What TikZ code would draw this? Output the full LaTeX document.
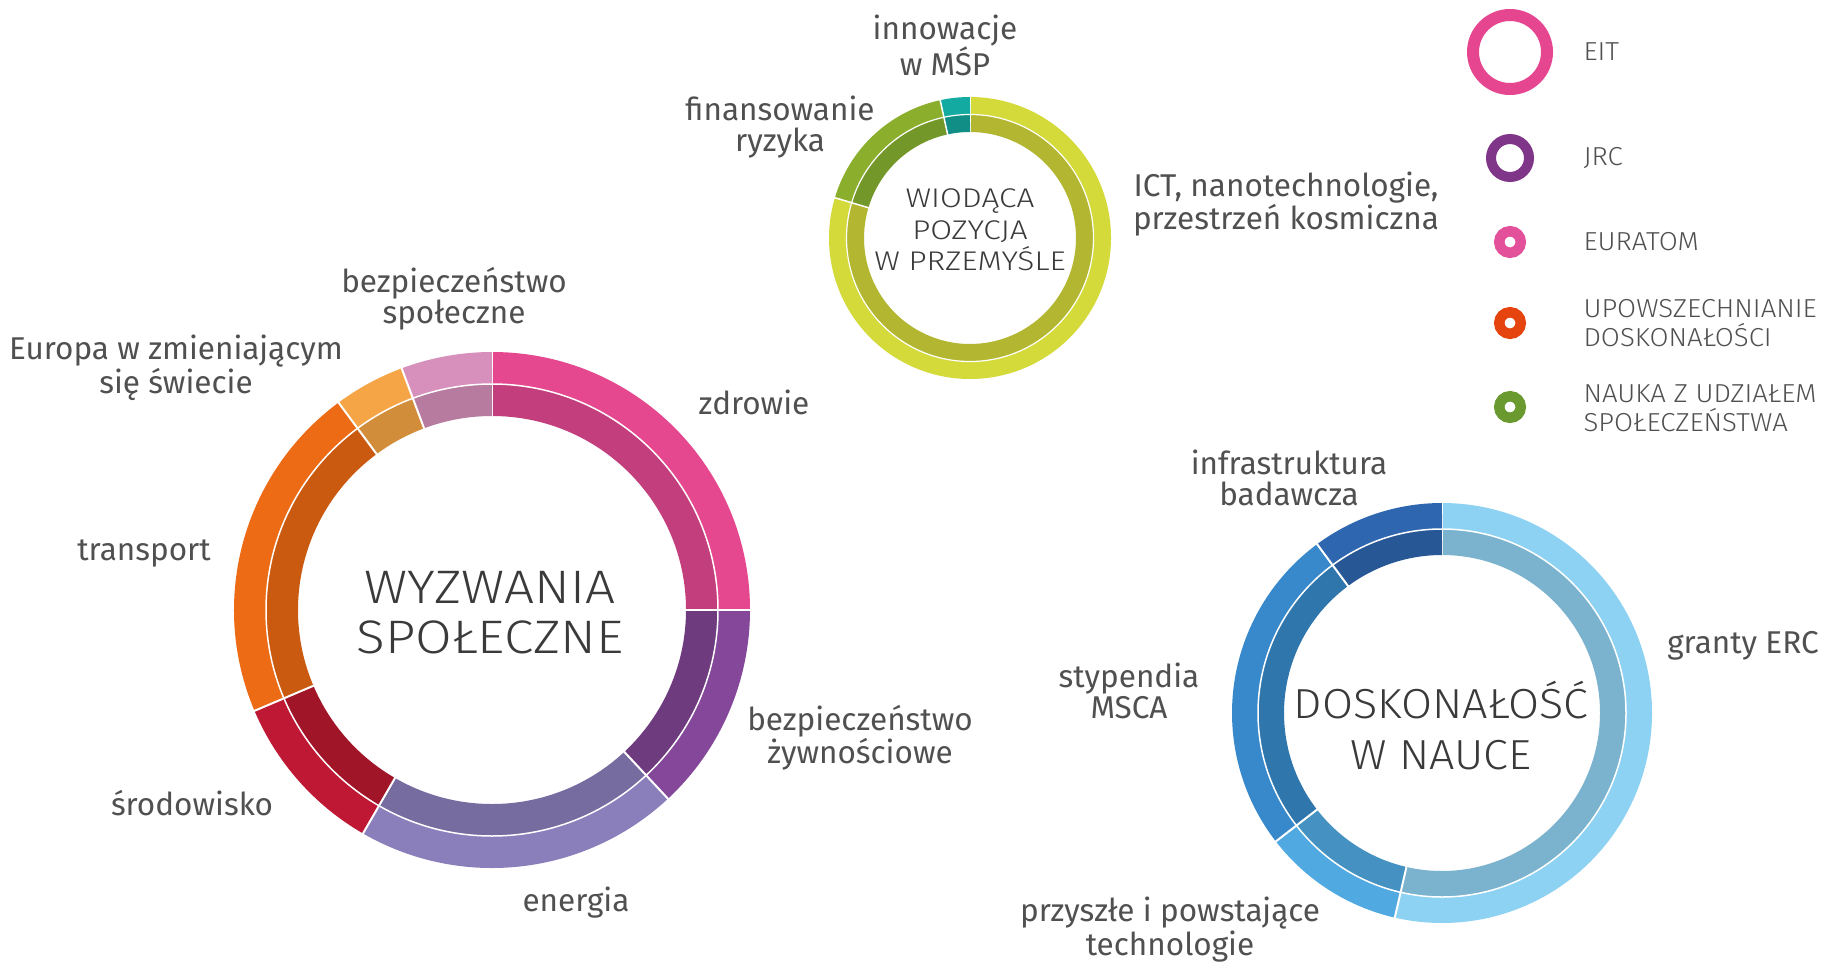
\documentclass[tikz,border=0pt]{standalone}
\usepackage{fontspec}
\setmainfont{Fira Sans}
\newfontfamily\thinfont{Fira Sans Light}
\usepackage{tikz}
\usetikzlibrary{calc}
\definecolor{labelgray}{HTML}{505050}
\definecolor{titlegray}{HTML}{3A3A3A}
% societal challenges
\definecolor{zdrowieout}{HTML}{E5488F}
\definecolor{zdrowiein}{HTML}{C33E7C}
\definecolor{zywnoscout}{HTML}{84479A}
\definecolor{zywnoscin}{HTML}{6E3B7E}
\definecolor{energiaout}{HTML}{8B7FBB}
\definecolor{energiain}{HTML}{776CA0}
\definecolor{srodowout}{HTML}{BE1834}
\definecolor{srodowin}{HTML}{A11529}
\definecolor{transpout}{HTML}{EC6B14}
\definecolor{transpin}{HTML}{C95A10}
\definecolor{europaout}{HTML}{F5A545}
\definecolor{europain}{HTML}{D18D3A}
\definecolor{bezpout}{HTML}{D790BB}
\definecolor{bezpin}{HTML}{B77BA0}
% industrial leadership
\definecolor{ictout}{HTML}{D4DA3A}
\definecolor{ictin}{HTML}{B3B630}
\definecolor{ryzykoout}{HTML}{8BAF2C}
\definecolor{ryzykoin}{HTML}{74972A}
\definecolor{mspout}{HTML}{13ABA1}
\definecolor{mspin}{HTML}{118F87}
% excellent science
\definecolor{ercout}{HTML}{8DD2F2}
\definecolor{ercin}{HTML}{7BB3CE}
\definecolor{fetout}{HTML}{50A9E1}
\definecolor{fetin}{HTML}{4592C2}
\definecolor{mscaout}{HTML}{3889CB}
\definecolor{mscain}{HTML}{2F76AD}
\definecolor{infraout}{HTML}{2F66B0}
\definecolor{infrain}{HTML}{285795}
% legend
\definecolor{eitpink}{HTML}{E6468F}
\definecolor{jrcpurple}{HTML}{7F3588}
\definecolor{euratompink}{HTML}{E4519B}
\definecolor{upoworange}{HTML}{E5440E}
\definecolor{naukagreen}{HTML}{6A9A2F}

\tikzset{
  lbl/.style={text=labelgray, align=center, font=\fontsize{31.5}{31}\selectfont},
  ttl/.style={text=titlegray, align=center},
  leg/.style={text=labelgray, anchor=west, align=left,
    font=\thinfont\addfontfeature{FakeStretch=1.06}\fontsize{26}{28.5}\selectfont},
}

\begin{document}
\begin{tikzpicture}[x=1pt, y=-1pt]
  \useasboundingbox (0,0) rectangle (1825,964);
  \fill[white] (0,0) rectangle (1825,964);

  % Wyzwania spoleczne ring
  \begin{scope}[shift={(492,610)}]
    \foreach \a/\b/\co/\ci in {-90/0/zdrowieout/zdrowiein, 0/47/zywnoscout/zywnoscin,
        47/120/energiaout/energiain, 120/157/srodowout/srodowin, 157/233.5/transpout/transpin,
        233.5/249.5/europaout/europain, 249.5/270/bezpout/bezpin} {
      \draw[\co, line width=32pt] (\a:242) arc[start angle=\a, end angle=\b, radius=242];
      \draw[\ci, line width=32pt] (\a:210) arc[start angle=\a, end angle=\b, radius=210];
      \draw[white, line width=2pt] (\a:193) -- (\a:259);
    }
    \draw[white, line width=1.5pt] (0,0) circle[radius=226];
  \end{scope}

  % Wiodaca pozycja ring
  \begin{scope}[shift={(970,238)}]
    \foreach \a/\b/\co/\ci in {-90/196.6/ictout/ictin, 196.6/257.8/ryzykoout/ryzykoin,
        257.8/270/mspout/mspin} {
      \draw[\co, line width=17.5pt] (\a:132.25) arc[start angle=\a, end angle=\b, radius=132.25];
      \draw[\ci, line width=17.5pt] (\a:114.75) arc[start angle=\a, end angle=\b, radius=114.75];
      \draw[white, line width=1.5pt] (\a:105) -- (\a:142);
    }
    \draw[white, line width=1.2pt] (0,0) circle[radius=123.5];
  \end{scope}

  % Doskonalosc w nauce ring
  \begin{scope}[shift={(1442,713)}]
    \foreach \a/\b/\co/\ci in {-90/103/ercout/ercin, 103/142.3/fetout/fetin,
        142.3/233.5/mscaout/mscain, 233.5/270/infraout/infrain} {
      \draw[\co, line width=26pt] (\a:197) arc[start angle=\a, end angle=\b, radius=197];
      \draw[\ci, line width=26pt] (\a:171) arc[start angle=\a, end angle=\b, radius=171];
      \draw[white, line width=2pt] (\a:157) -- (\a:211);
    }
    \draw[white, line width=1.5pt] (0,0) circle[radius=184];
  \end{scope}

  % Ring titles
  \node[ttl, font=\thinfont\addfontfeature{FakeStretch=1.13}\fontsize{47}{50}\selectfont]
    (tWyzwania) at (490,613) {WYZWANIA\\SPOŁECZNE};
  \node[ttl, font=\thinfont\addfontfeature{FakeStretch=1.17}\fontsize{27}{31.5}\selectfont]
    (tWiodaca) at (970,230) {WIODĄCA\\POZYCJA\\W PRZEMYŚLE};
  \node[ttl, font=\thinfont\addfontfeature{FakeStretch=1.07}\fontsize{42}{51}\selectfont]
    (tDoskonalosc) at (1441,725.5) {DOSKONAŁOŚĆ\\W NAUCE};

  % Segment labels
  \node[lbl] (lMsp) at (945,45.5) {innowacje\\w MŚP};
  \node[lbl] (lRyzyko) at (780,127) {finansowanie\\ryzyka};
  \node[lbl] (lIct) at (1286,204) {ICT, nanotechnologie,\\przestrzeń kosmiczna};
  \node[lbl] (lBezp) at (454,298.5) {bezpieczeństwo\\społeczne};
  \node[lbl] (lEuropa) at (176,368) {Europa w zmieniającym\\się świecie};
  \node[lbl] (lZdrowie) at (754,402) {zdrowie};
  \node[lbl] (lTransport) at (144,553) {transport};
  \node[lbl] (lZywnosc) at (860,738) {bezpieczeństwo\\żywnościowe};
  \node[lbl] (lSrodowisko) at (192,803) {środowisko};
  \node[lbl] (lEnergia) at (576,903) {energia};
  \node[lbl] (lInfra) at (1289,478) {infrastruktura\\badawcza};
  \node[lbl] (lErc) at (1743,646) {granty ERC};
  \node[lbl] (lMsca) at (1129,691) {stypendia\\MSCA};
  \node[lbl, font=\fontsize{31.5}{30}\selectfont] (lFet) at (1170,929.5) {przyszłe i powstające\\technologie};

  % Legend
  \foreach \y/\rm/\w/\col in {52/37/12/eitpink, 158/19/10/jrcpurple, 242/10.75/10.5/euratompink,
      323/10.75/10.5/upoworange, 407/10.75/10.5/naukagreen} {
    \draw[\col, line width=\w pt] (1510,\y) circle[radius=\rm];
  }
  \node[leg] (gEit) at (1580,52) {EIT};
  \node[leg] (gJrc) at (1580,158) {JRC};
  \node[leg] (gEuratom) at (1580,242) {EURATOM};
  \node[leg] (gUpow) at (1580,323) {UPOWSZECHNIANIE\\DOSKONAŁOŚCI};
  \node[leg] (gNauka) at (1580,408) {NAUKA Z UDZIAŁEM\\SPOŁECZEŃSTWA};
\end{tikzpicture}
\end{document}
